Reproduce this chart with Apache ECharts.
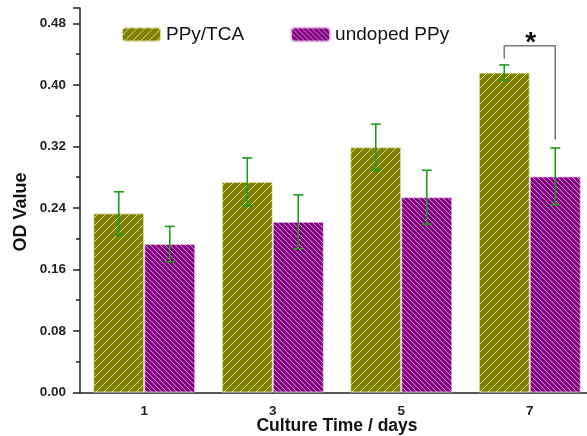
<!DOCTYPE html>
<html>
<head>
<meta charset="utf-8">
<script src="https://cdn.jsdelivr.net/npm/echarts@6/dist/echarts.min.js"></script>
<style>
  html, body { margin: 0; padding: 0; background: #fff; }
  #chart { width: 587px; height: 436px; }
</style>
</head>
<body>
<div id="chart"></div>
<script>
// Culture time points (days)
const days = ['1', '3', '5', '7'];
// OD readings and standard deviations
const ppyTca = [0.233, 0.274, 0.319, 0.416];
const ppyTcaErr = [0.028, 0.031, 0.030, 0.010];
const undopedPpy = [0.193, 0.222, 0.254, 0.281];
const undopedPpyErr = [0.023, 0.035, 0.035, 0.037];
// Significance bracket on day 7: top level, left leg end, right leg end
const sigDay = 3;
const sigTop = 0.451;
const sigLeft = 0.434;
const sigRight = 0.329;
const sigMark = '*';

const FONT = 'Liberation Sans, Arial, Helvetica, sans-serif';
const BAR_W = 51;

// Hatched fill tiles
function hatch(bg, line, size, forward) {
  const c = document.createElement('canvas');
  c.width = size; c.height = size;
  const g = c.getContext('2d');
  g.fillStyle = bg;
  g.fillRect(0, 0, size, size);
  g.strokeStyle = line;
  g.lineWidth = 1;
  g.beginPath();
  if (forward) {
    for (let k = -1; k <= 1; k++) {
      g.moveTo(k * size, size);
      g.lineTo(k * size + size, 0);
    }
  } else {
    for (let k = -1; k <= 1; k++) {
      g.moveTo(k * size, 0);
      g.lineTo(k * size + size, size);
    }
  }
  g.stroke();
  return c;
}
const oliveFill = { image: hatch('#808000', 'rgba(235,235,190,0.8)', 8, true), repeat: 'repeat' };
const purpleFill = { image: hatch('#800080', 'rgba(240,190,240,0.75)', 5, false), repeat: 'repeat' };

function errData(vals, errs) {
  return vals.map((v, i) => [i, v - errs[i], v + errs[i]]);
}

function errRender(offset) {
  return function (params, api) {
    const x = api.value(0);
    const lo = api.coord([x, api.value(1)]);
    const hi = api.coord([x, api.value(2)]);
    const cx = lo[0] + offset;
    const half = 5;
    const style = { stroke: '#1e9a1e', lineWidth: 1.6, fill: null };
    return {
      type: 'group',
      children: [
        { type: 'line', shape: { x1: cx, y1: hi[1], x2: cx, y2: lo[1] }, style },
        { type: 'line', shape: { x1: cx - half, y1: hi[1], x2: cx + half, y2: hi[1] }, style },
        { type: 'line', shape: { x1: cx - half, y1: lo[1], x2: cx + half, y2: lo[1] }, style }
      ]
    };
  };
}

const chart = echarts.init(document.getElementById('chart'), null, { renderer: 'canvas' });

chart.setOption({
  animation: false,
  backgroundColor: '#fff',
  textStyle: { fontFamily: FONT },
  grid: { left: 80, right: -7, top: 8, bottom: 43.5, containLabel: false, outerBoundsMode: 'none' },
  legend: {
    left: 116, top: 20,
    itemWidth: 39, itemHeight: 14, itemGap: 46,
    textStyle: { fontSize: 19, color: '#111', fontFamily: FONT },
    data: ['PPy/TCA', 'undoped PPy']
  },
  xAxis: {
    type: 'category',
    data: days,
    name: 'Culture Time / days',
    nameLocation: 'middle',
    nameGap: 25,
    nameMoveOverlap: false,
    nameTextStyle: { fontSize: 17.5, fontWeight: 'bold', color: '#111', fontFamily: FONT },
    axisLine: { lineStyle: { color: '#222', width: 1.5 } },
    axisTick: { alignWithLabel: true, length: 6, lineStyle: { color: '#222', width: 1.5 } },
    axisLabel: { fontSize: 13.5, fontWeight: 'bold', color: '#222', margin: 12, fontFamily: FONT },
    splitLine: { show: false }
  },
  yAxis: {
    type: 'value',
    min: 0, max: 0.5, interval: 0.08,
    axisLine: { show: true, lineStyle: { color: '#222', width: 1.5 } },
    axisTick: { show: true, length: 7, lineStyle: { color: '#222', width: 1.5 } },
    minorTick: { show: true, splitNumber: 2, length: 4, lineStyle: { color: '#222', width: 1.5 } },
    axisLabel: {
      fontSize: 13.5, fontWeight: 'bold', color: '#222', margin: 14, fontFamily: FONT,
      showMaxLabel: false,
      formatter: v => v.toFixed(2)
    },
    splitLine: { show: false }
  },
  graphic: [{
    type: 'text',
    x: 21, y: 212,
    rotation: Math.PI / 2,
    style: {
      text: 'OD Value',
      fontSize: 18, fontWeight: 'bold', fill: '#111', fontFamily: FONT,
      textAlign: 'center', textVerticalAlign: 'middle'
    }
  }],
  series: [
    {
      name: 'PPy/TCA', type: 'bar', data: ppyTca,
      barWidth: BAR_W, barGap: '0%',
      itemStyle: { color: oliveFill, borderColor: 'rgba(240,240,200,0.8)', borderWidth: 1 }
    },
    {
      name: 'undoped PPy', type: 'bar', data: undopedPpy,
      barWidth: BAR_W, barGap: '0%',
      itemStyle: { color: purpleFill, borderColor: 'rgba(240,200,240,0.8)', borderWidth: 1 }
    },
    {
      type: 'custom', name: 'PPy/TCA err', data: errData(ppyTca, ppyTcaErr),
      encode: { x: 0, y: [1, 2] }, renderItem: errRender(-BAR_W / 2), z: 5, silent: true
    },
    {
      type: 'custom', name: 'undoped PPy err', data: errData(undopedPpy, undopedPpyErr),
      encode: { x: 0, y: [1, 2] }, renderItem: errRender(BAR_W / 2), z: 5, silent: true
    },
    {
      type: 'custom', name: 'significance',
      data: [[sigDay, sigTop, sigLeft, sigRight]],
      encode: { x: 0, y: [1, 2, 3] },
      z: 6, silent: true,
      renderItem: function (params, api) {
        const x = api.value(0);
        const top = api.coord([x, api.value(1)]);
        const l = api.coord([x, api.value(2)]);
        const r = api.coord([x, api.value(3)]);
        const xl = top[0] - BAR_W / 2;
        const xr = top[0] + BAR_W / 2;
        return {
          type: 'group',
          children: [
            {
              type: 'polyline',
              shape: { points: [[xl, l[1]], [xl, top[1]], [xr, top[1]], [xr, r[1]]] },
              style: { stroke: '#7a7a7a', lineWidth: 1.5, fill: null }
            },
            {
              type: 'text',
              x: top[0] + 1, y: top[1] + 12,
              style: {
                text: sigMark, fontSize: 28, fontWeight: 'bold', fill: '#111', fontFamily: FONT,
                textAlign: 'center', textVerticalAlign: 'bottom'
              }
            }
          ]
        };
      }
    }
  ]
});
</script>
</body>
</html>
